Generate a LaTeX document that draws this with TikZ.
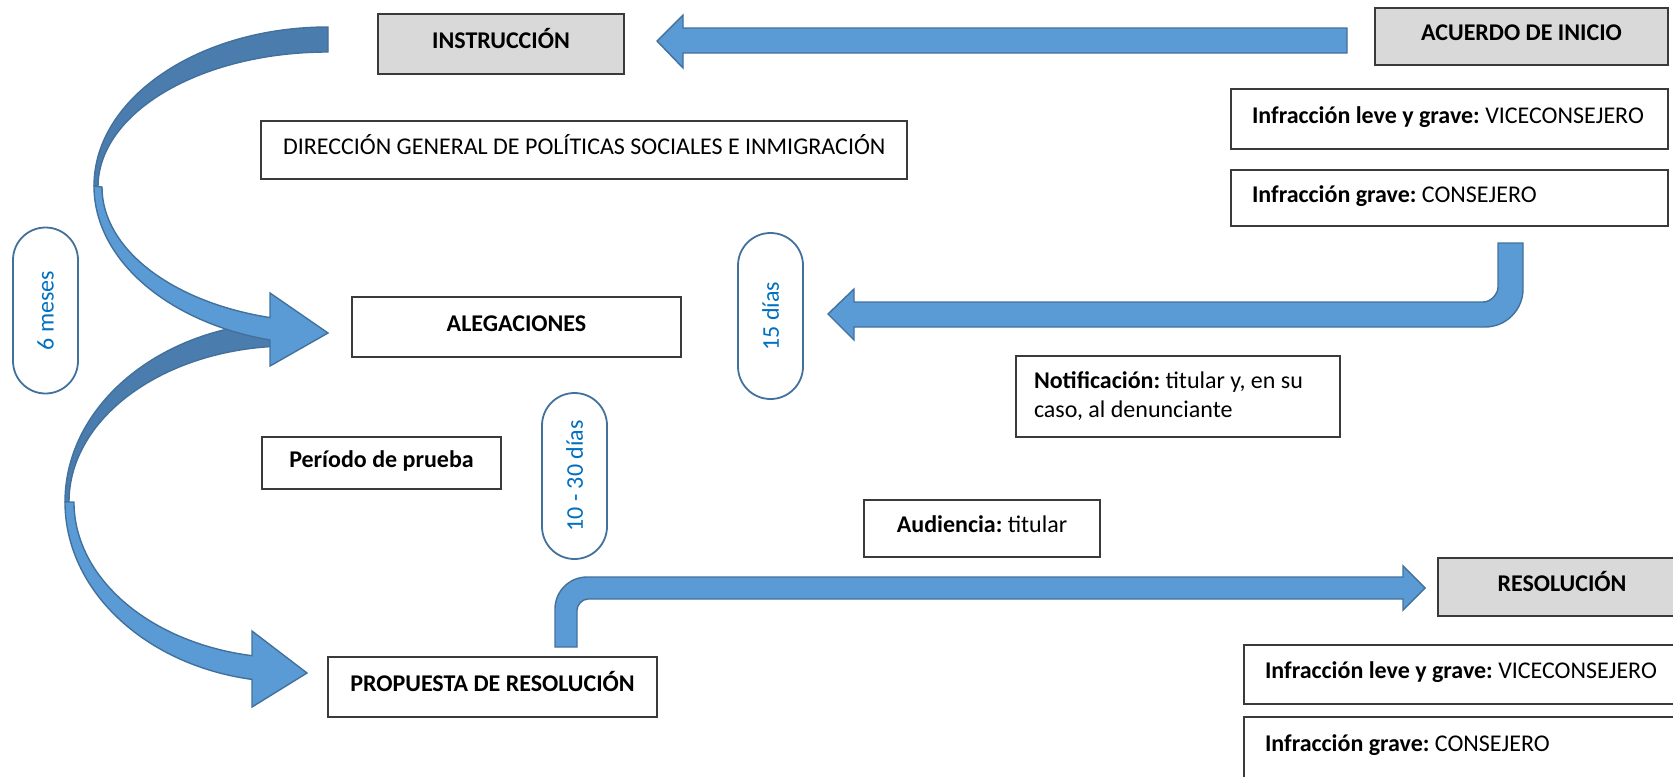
\documentclass[tikz,border=0pt]{standalone}
\usepackage{fontspec}
\setmainfont{Carlito}
\usetikzlibrary{shapes.misc}
\definecolor{arrowfill}{HTML}{5B9BD5}
\definecolor{arrowline}{HTML}{41719C}
\definecolor{arrowdark}{HTML}{4A7DAE}
\definecolor{boxgray}{HTML}{D9D9D9}
\definecolor{boxline}{HTML}{3A3A3A}
\definecolor{pillblue}{HTML}{0070C0}
\frenchspacing
\begin{document}
\begin{tikzpicture}[x=0.5pt,y=-0.5pt,
  bx/.style={draw=boxline, line width=0.9pt, inner sep=0pt, font=\fontsize{12}{14.5}\selectfont, align=center},
  one/.style={text height=7.8pt, text depth=3.7pt},
  grayfill/.style={fill=boxgray},
  lft/.style={align=left},
  pill/.style={rounded rectangle, draw=arrowline, line width=0.9pt, fill=white, text=pillblue, rotate=90, inner sep=0pt, minimum width=83pt, minimum height=32.5pt, font=\fontsize{12}{14.5}\selectfont},
  blockarrow/.style={fill=arrowfill, draw=arrowline, line width=0.7pt, line join=miter},
  backarrow/.style={fill=arrowdark, draw=arrowline, line width=0.7pt}
]
\useasboundingbox (0,0) rectangle (1673,776);
\clip (0,0) rectangle (1673,776);

% ---- curved arrow 2 (Alegaciones -> Propuesta)
\path[backarrow] (290,322) arc[start angle=270, end angle=180, x radius=225, y radius=180]
  -- (69,502) arc[start angle=180, end angle=270, x radius=221, y radius=156] -- cycle;
\path[blockarrow] (65,502) arc[start angle=180, end angle=99.72, x radius=225, y radius=180]
  -- (252,707) -- (307,673) -- (252,631) -- (252,655.7)
  arc[start angle=100.13, end angle=180, x radius=216, y radius=156.1] -- cycle;

% ---- curved arrow 1 (Instruccion -> Alegaciones)
\path[backarrow] (328,27) arc[start angle=270, end angle=180, x radius=234, y radius=159]
  -- (98,187) arc[start angle=180, end angle=270, x radius=230, y radius=135] -- cycle;
\path[blockarrow] (94,186) arc[start angle=180, end angle=104.35, x radius=234, y radius=159]
  -- (270,366) -- (328,333) -- (270,293) -- (270,317.6)
  arc[start angle=104.87, end angle=180, x radius=226, y radius=135.1] -- cycle;

% ---- straight arrow Acuerdo -> Instruccion
\path[blockarrow] (1347,28) -- (683,28) -- (683,15) -- (657,41) -- (683,68) -- (683,53) -- (1347,53) -- cycle;

% ---- bent arrow -> Alegaciones (15 dias)
\path[blockarrow] (1498,243) -- (1523,243) -- (1523,289) .. controls (1523,310) and (1506,327) .. (1485,327)
  -- (854,327) -- (854,340) -- (828,314) -- (854,289) -- (854,302) -- (1483,302)
  .. controls (1491.3,302) and (1498,293.7) .. (1498,287) -- cycle;

% ---- bent arrow Propuesta -> Resolucion
\path[blockarrow] (555,647) -- (555,609) .. controls (555,591.3) and (569.3,577) .. (587,577)
  -- (1403,577) -- (1403,566) -- (1425,588) -- (1403,610) -- (1403,599) -- (588,599)
  .. controls (581.9,599) and (577,605.1) .. (577,610) -- (577,647) -- cycle;

% ---- boxes
\node[bx, one, grayfill, minimum width=123pt, minimum height=30pt] (instr) at (501,44) {\textbf{INSTRUCCIÓN}};
\node[bx, one, grayfill, minimum width=146.5pt, minimum height=28.5pt] (acuerdo) at (1521.5,36.5) {\textbf{ACUERDO DE INICIO}};
\node[bx, one, minimum height=30pt, inner xsep=10.5pt] (inf1) at (1449.5,119) {\makebox[197.5pt][l]{\textbf{Infracción leve y grave:} VICECONSEJERO}};
\node[bx, one, minimum height=28pt, inner xsep=10.5pt] (inf2) at (1449.5,198) {\makebox[197.5pt][l]{\textbf{Infracción grave:} CONSEJERO}};
\node[bx, one, minimum height=29pt, inner xsep=11pt] (dg) at (584,150) {\makebox[301pt][l]{DIRECCIÓN GENERAL DE POLÍTICAS SOCIALES E INMIGRACIÓN}};
\node[bx, one, minimum width=164.5pt, minimum height=30pt] (aleg) at (516.5,327) {\textbf{ALEGACIONES}};
\node[bx, one, minimum width=119.5pt, minimum height=26pt] (periodo) at (381.5,463) {\textbf{Período de prueba}};
\node[bx, lft, minimum height=40.5pt, inner xsep=9pt] (notif) at (1178,396.5) {\makebox[144pt][l]{\textbf{Notificación:} titular y, en su}\\\makebox[144pt][l]{caso, al denunciante}};
\node[bx, one, minimum width=118pt, minimum height=28.5pt] (aud) at (982,528.5) {\textbf{Audiencia:} titular};
\node[bx, one, minimum width=164.5pt, minimum height=30pt] (prop) at (492.5,687) {\textbf{PROPUESTA DE RESOLUCIÓN}};
\node[bx, one, grayfill, minimum width=124pt, minimum height=29pt] (resol) at (1562,587) {\textbf{RESOLUCIÓN}};
\node[bx, one, minimum height=29.5pt, inner xsep=10.5pt] (inf3) at (1472,674.5) {\makebox[207pt][l]{\textbf{Infracción leve y grave:} VICECONSEJERO}};
\node[bx, one, minimum height=30.5pt, inner xsep=10.5pt] (inf4) at (1472,747.5) {\makebox[207pt][l]{\textbf{Infracción grave:} CONSEJERO}};

% ---- pills
\node[pill] (p6) at (45.5,310.5) {6 meses};
\node[pill] (p15) at (770.5,316) {15 días};
\node[pill] (p1030) at (574.5,476) {10 - 30 días};
\end{tikzpicture}
\end{document}
